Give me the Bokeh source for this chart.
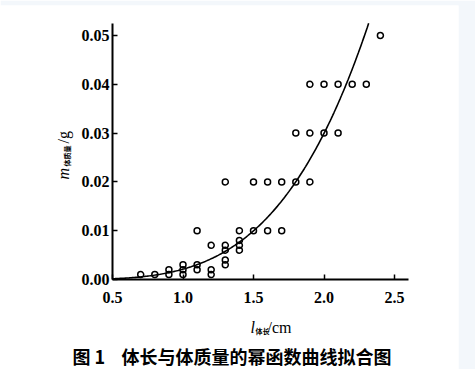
import numpy as np
from bokeh.plotting import figure
from bokeh.models import Range1d, FixedTicker, Label
from bokeh.embed import file_html
from bokeh.resources import INLINE

# ---- data ----
length_cm = [0.7, 0.8, 0.9, 0.9, 1.0, 1.0, 1.0, 1.1, 1.1, 1.1, 1.2, 1.2, 1.2,
             1.3, 1.3, 1.3, 1.3, 1.3, 1.4, 1.4, 1.4, 1.4, 1.5, 1.5, 1.6, 1.6,
             1.7, 1.7, 1.8, 1.8, 1.9, 1.9, 1.9, 2.0, 2.0, 2.1, 2.1, 2.2, 2.3, 2.4]
mass_g = [0.001, 0.001, 0.002, 0.001, 0.003, 0.002, 0.001, 0.010, 0.003, 0.002,
          0.007, 0.002, 0.001, 0.020, 0.007, 0.006, 0.004, 0.003, 0.010, 0.008,
          0.007, 0.006, 0.020, 0.010, 0.020, 0.010, 0.020, 0.010, 0.030, 0.020,
          0.040, 0.030, 0.020, 0.040, 0.030, 0.040, 0.030, 0.040, 0.040, 0.050]
# fitted power function m = a * l^b
fit_a = 0.00212
fit_b = 3.82
x_ticks = [0.5, 1.0, 1.5, 2.0, 2.5]
y_ticks = [0.0, 0.01, 0.02, 0.03, 0.04, 0.05]
x_axis_span = (0.5, 2.6)
y_axis_span = (0.0, 0.0525)

# ---- layout (pixels) ----
W, H = 475, 369
FRAME_L, FRAME_T, FRAME_R, FRAME_B = 0, 5, 458, 369   # white area on the page
ORIG_PX, ORIG_PY = 112, 279                          # axis origin on the page
PX_PER_X = 141.0                                     # pixels per cm
PX_PER_Y = 4880.0                                    # pixels per g

x0 = x_axis_span[0] - (ORIG_PX - FRAME_L) / PX_PER_X
x1 = x_axis_span[0] + (FRAME_R - ORIG_PX) / PX_PER_X
y0 = y_axis_span[0] - (FRAME_B - ORIG_PY) / PX_PER_Y
y1 = y_axis_span[0] + (ORIG_PY - FRAME_T) / PX_PER_Y

x_end = (y_axis_span[1] / fit_a) ** (1.0 / fit_b)
curve_x = np.linspace(x_axis_span[0], x_end, 200)
curve_y = fit_a * curve_x ** fit_b

p = figure(width=W, height=H, output_backend="svg", toolbar_location=None,
           x_range=Range1d(x0, x1), y_range=Range1d(y0, y1),
           min_border_left=FRAME_L, min_border_top=FRAME_T,
           min_border_right=W - FRAME_R, min_border_bottom=H - FRAME_B)
p.title.visible = False
p.outline_line_color = None
p.grid.visible = False
p.background_fill_color = "white"
p.border_fill_color = "#f3f7fb"

p.line(curve_x, curve_y, line_color="black", line_width=1.6)
p.scatter(length_cm, mass_g, marker="circle", size=6, fill_color=None,
          line_color="black", line_width=1.5)

xa = p.xaxis[0]
ya = p.yaxis[0]
xa.fixed_location = y_axis_span[0]
ya.fixed_location = x_axis_span[0]
xa.bounds = x_axis_span
ya.bounds = y_axis_span

for ax in (xa, ya):
    ax.axis_line_width = 2
    ax.axis_line_color = "black"
    ax.major_tick_in = 5
    ax.major_tick_out = 0
    ax.major_tick_line_width = 1.5
    ax.minor_tick_in = 0
    ax.minor_tick_out = 0
    ax.major_label_text_font = "Liberation Serif"
    ax.major_label_text_font_style = "bold"
    ax.major_label_text_font_size = "16px"
    ax.major_label_text_color = "black"

xa.ticker = FixedTicker(ticks=x_ticks)
ya.ticker = FixedTicker(ticks=y_ticks)
xa.major_label_overrides = {t: f"{t:.1f}" for t in x_ticks}
ya.major_label_overrides = {t: f"{t:.2f}" for t in y_ticks}
xa.major_label_standoff = 12
ya.major_label_standoff = 3

# page pixel -> frame screen units (x from frame left, y from frame bottom)
def sx(px):
    return px - FRAME_L

def sy(py):
    return FRAME_B - py

serif = "Liberation Serif"
cjk = "Noto Sans CJK SC"

def lab(x, y, text, font, size, style="normal", angle=0.0, baseline="alphabetic"):
    p.add_layout(Label(x=sx(x), y=sy(y), x_units="screen", y_units="screen",
                       text=text, text_font=font, text_font_style=style,
                       text_font_size=size, text_baseline=baseline,
                       angle=angle, text_color="black"))

# x axis label  l_体长/cm
lab(250, 327, "l", serif, "16px", "italic")
lab(255, 330, "体长", cjk, "7px", "bold")
lab(267, 327, "/cm", serif, "16px")

# y axis label  m_体质量/g (rotated)
ang = np.pi / 2
lab(63, 179, "m", serif, "16px", "italic", ang)
lab(66, 166, "体质量", cjk, "7px", "bold", ang)
lab(63, 143, "/g", serif, "16px", "normal", ang)

# caption
lab(72, 355, "图 1", cjk, "18px", "bold", baseline="middle")
lab(121, 355, "体长与体质量的幂函数曲线拟合图", cjk, "18px", "bold", baseline="middle")

open("out.html", "w").write(file_html(p, INLINE))
